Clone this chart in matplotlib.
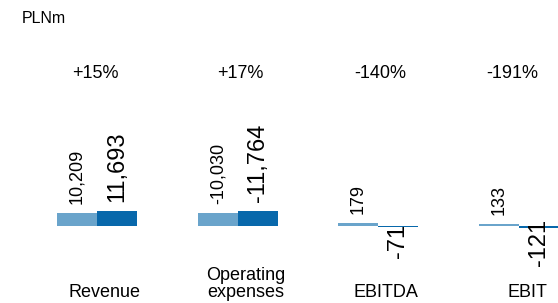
import matplotlib
matplotlib.use("Agg")
import matplotlib.pyplot as plt

# ---- data ----
categories = ["Revenue", "Operating\nexpenses", "EBITDA", "EBIT"]
prev_values = [10209, -10030, 179, 133]
curr_values = [11693, -11764, -71, -121]
changes = ["+15%", "+17%", "-140%", "-191%"]
unit_label = "PLNm"

# ---- style ----
plt.rcParams['font.family'] = ['Liberation Sans', 'DejaVu Sans']
LIGHT = "#6aa4cb"
DARK = "#0868ab"
W, H = 558, 303
fig = plt.figure(figsize=(W / 100, H / 100), dpi=100)

group_centers = [97, 238, 378, 519]      # px
pct_shift = [-2, 2, 2, -7]               # px
units_per_px = [780, 780, 60, 60]        # per-panel scale
inverted = [False, True, False, False]
AX_TOP, AX_BOT, BASE = 100, 260, 226     # px from top
HALF_W = 70.5
BAR_PX = 40

fig.text(22 / W, 1 - 23 / H, unit_label, fontsize=11.5, va="baseline", ha="left")

for i, cat in enumerate(categories):
    cx = group_centers[i]
    ax = fig.add_axes([(cx - HALF_W) / W, (H - AX_BOT) / H,
                       2 * HALF_W / W, (AX_BOT - AX_TOP) / H])
    ax.set_axis_off()
    s = units_per_px[i]
    below = (AX_BOT - BASE) * s
    above = (BASE - AX_TOP) * s
    if inverted[i]:
        ax.set_ylim(below, -above)
    else:
        ax.set_ylim(-below, above)
    ax.set_xlim(-HALF_W / BAR_PX, HALF_W / BAR_PX)

    vals = [prev_values[i], curr_values[i]]
    xs = [-0.5, 0.5]
    cols = [LIGHT, DARK]
    sizes = [13, 17]
    ax.bar(xs, vals, width=1.0, color=cols, linewidth=0)
    for x, v, fs in zip(xs, vals, sizes):
        up = (v >= 0) != inverted[i]
        if up:
            ax.annotate(f"{v:,}", (x, v), xytext=(0, 9), textcoords="offset pixels",
                        rotation=90, ha="center", va="bottom", fontsize=fs)
        else:
            ax.annotate(f"{v:,}", (x, v), xytext=(0, -14), textcoords="offset pixels",
                        rotation=90, ha="center", va="center", fontsize=fs)

    fig.text((cx + pct_shift[i]) / W, 1 - 78 / H, changes[i], fontsize=13,
             ha="center", va="baseline")
    fig.text((cx + 8) / W, 1 - 297 / H, cat, fontsize=13, ha="center",
             va="baseline", multialignment="center", linespacing=1.0)

fig.savefig("out.png", dpi=100)
